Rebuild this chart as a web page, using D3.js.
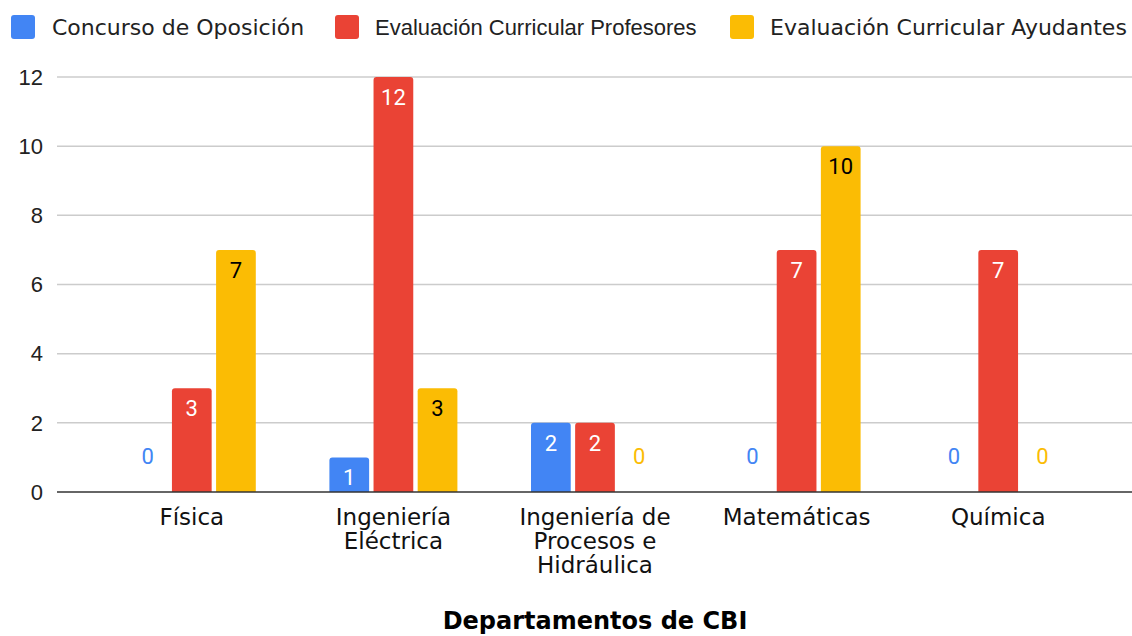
<!DOCTYPE html>
<html lang="en">
<head>
<meta charset="UTF-8">
<title>Departamentos de CBI</title>
<style>
  body { margin: 0; background: #fff; }
  svg { display: block; }
</style>
</head>
<body>
<svg id="chart" width="1132" height="636"></svg>
<script src="https://d3js.org/d3.v7.min.js"></script>
<script>
// data
const categories = [
  ['Física'],
  ['Ingeniería', 'Eléctrica'],
  ['Ingeniería de', 'Procesos e', 'Hidráulica'],
  ['Matemáticas'],
  ['Química']
];
const seriesNames = ['Concurso de Oposición', 'Evaluación Curricular Profesores', 'Evaluación Curricular Ayudantes'];
const concurso = [0, 1, 2, 0, 0];
const profesores = [3, 12, 2, 7, 7];
const ayudantes = [7, 3, 0, 10, 0];
const yTicks = [0, 2, 4, 6, 8, 10, 12];

const colors = ['#4285f4', '#ea4335', '#fbbc04'];
const insideText = ['#ffffff', '#ffffff', '#000000'];
const values = [concurso, profesores, ayudantes];

const verdana = '"DejaVu Sans", Verdana, sans-serif';
const arial = '"Liberation Sans", Arial, sans-serif';

const svg = d3.select('#chart');
const catKeys = categories.map((c, i) => i);

const x = d3.scaleBand().domain(catKeys).range([91, 1099]);
const inner = d3.scaleBand().domain([0, 1, 2]).range([-64, 64]).paddingInner(0.1);
const y = d3.scaleLinear().domain([0, 12]).range([492, 77]);

// gridlines + y labels
svg.append('g').selectAll('line').data(yTicks.filter(d => d > 0)).join('line')
  .attr('x1', 57).attr('x2', 1132)
  .attr('y1', d => y(d)).attr('y2', d => y(d))
  .attr('stroke', '#cccccc').attr('stroke-width', 1.5);

svg.append('g').selectAll('text').data(yTicks).join('text')
  .attr('x', 43).attr('y', d => y(d))
  .attr('dy', '0.35em')
  .attr('text-anchor', 'end')
  .attr('font-family', arial)
  .attr('font-size', 22)
  .attr('fill', '#222')
  .text(d => d);

// bars
function topRounded(x0, y0, w, h, r) {
  r = Math.min(r, h, w / 2);
  return `M${x0},${y0 + h}V${y0 + r}Q${x0},${y0} ${x0 + r},${y0}H${x0 + w - r}Q${x0 + w},${y0} ${x0 + w},${y0 + r}V${y0 + h}Z`;
}

values.forEach((vals, s) => {
  const g = svg.append('g');
  vals.forEach((v, i) => {
    const bx = x(i) + x.bandwidth() / 2 + inner(s);
    const bw = inner.bandwidth();
    if (v > 0) {
      g.append('path')
        .attr('d', topRounded(bx, y(v), bw, y(0) - y(v), 3))
        .attr('fill', colors[s]);
      g.append('text')
        .attr('x', bx + bw / 2).attr('y', y(v) + 20)
        .attr('dy', '0.35em')
        .attr('text-anchor', 'middle')
        .attr('font-family', 'Roboto, sans-serif')
        .attr('font-size', 22)
        .attr('fill', insideText[s])
        .text(v);
    } else {
      g.append('text')
        .attr('x', bx + bw / 2).attr('y', y(0) - 36)
        .attr('dy', '0.35em')
        .attr('text-anchor', 'middle')
        .attr('font-family', 'Roboto, sans-serif')
        .attr('font-size', 22)
        .attr('fill', colors[s])
        .text(v);
    }
  });
});

// baseline
svg.append('line')
  .attr('x1', 57).attr('x2', 1132)
  .attr('y1', y(0)).attr('y2', y(0))
  .attr('stroke', '#333').attr('stroke-width', 1.5);

// x labels
const xl = svg.append('g').selectAll('text').data(catKeys).join('text')
  .attr('text-anchor', 'middle')
  .attr('font-family', verdana)
  .attr('font-size', 23)
  .attr('fill', '#111');
xl.each(function(d) {
  d3.select(this).selectAll('tspan').data(categories[d]).join('tspan')
    .attr('x', x(d) + x.bandwidth() / 2)
    .attr('y', (t, j) => 517 + j * 24)
    .attr('dy', '0.35em')
    .text(t => t);
});

// axis title
svg.append('text')
  .attr('x', 595).attr('y', 621)
  .attr('dy', '0.35em')
  .attr('text-anchor', 'middle')
  .attr('font-family', verdana)
  .attr('font-weight', 'bold')
  .attr('font-size', 24)
  .attr('fill', '#000')
  .text('Departamentos de CBI');

// legend
const legendX = [11, 335, 730];
const legendFont = [verdana, arial, verdana];
const lg = svg.append('g').selectAll('g').data(seriesNames).join('g')
  .attr('transform', (d, i) => `translate(${legendX[i]},27)`);
lg.append('rect')
  .attr('x', 0).attr('y', -12).attr('width', 24).attr('height', 24)
  .attr('rx', 3).attr('fill', (d, i) => colors[i]);
lg.append('text')
  .attr('x', (d, i) => i === 0 ? 41 : 40)
  .attr('dy', '0.35em')
  .attr('font-family', (d, i) => legendFont[i])
  .attr('font-size', 22)
  .attr('fill', '#222')
  .text(d => d);
</script>
</body>
</html>
